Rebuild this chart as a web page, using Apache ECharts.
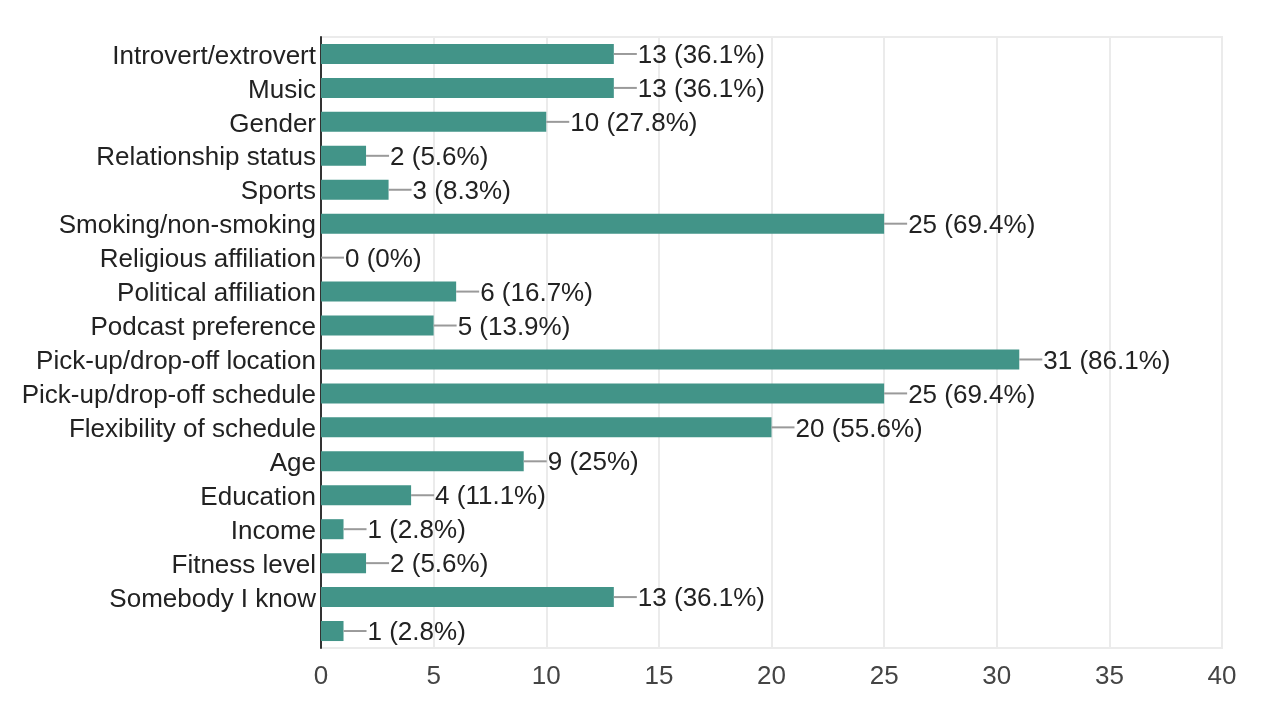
<!DOCTYPE html>
<html>
<head>
<meta charset="utf-8">
<script src="https://cdn.jsdelivr.net/npm/echarts@6/dist/echarts.min.js"></script>
<style>
html,body{margin:0;padding:0;background:#fff;}
#chart{width:1276px;height:709px;}
</style>
</head>
<body>
<div id="chart"></div>
<script>
const categories = [
  "Introvert/extrovert","Music","Gender","Relationship status","Sports",
  "Smoking/non-smoking","Religious affiliation","Political affiliation",
  "Podcast preference","Pick-up/drop-off location","Pick-up/drop-off schedule",
  "Flexibility of schedule","Age","Education","Income","Fitness level",
  "Somebody I know",""
];
const counts = [13,13,10,2,3,25,0,6,5,31,25,20,9,4,1,2,13,1];
const percents = ["36.1%","36.1%","27.8%","5.6%","8.3%","69.4%","0%","16.7%","13.9%","86.1%","69.4%","55.6%","25%","11.1%","2.8%","5.6%","36.1%","2.8%"];
const xTicks = {min:0, max:40, interval:5};

const FONT = '"Liberation Sans", Arial, Helvetica, sans-serif';
const chart = echarts.init(document.getElementById('chart'), null, {renderer:'canvas'});
chart.setOption({
  animation:false,
  backgroundColor:'#fff',
  grid:{left:321, right:54, top:37, bottom:61, show:true, borderColor:'#ebebeb', borderWidth:2, containLabel:false},
  xAxis:{
    type:'value', min:xTicks.min, max:xTicks.max, interval:xTicks.interval,
    axisLine:{show:false}, axisTick:{show:false},
    splitLine:{show:true, lineStyle:{color:'#ebebeb', width:2}},
    axisLabel:{color:'#444', fontSize:26, fontFamily:FONT, margin:16}
  },
  yAxis:{
    type:'category', inverse:true, data:categories,
    axisTick:{show:false},
    axisLine:{show:true, lineStyle:{color:'#333', width:2}},
    axisLabel:{
      margin:5,
      formatter:function(v){ return v ? '{c|' + v + '}' : ''; },
      rich:{c:{color:'#222', fontSize:26, fontFamily:FONT, padding:[5,0,0,0]}}
    }
  },
  series:[{
    type:'bar',
    data:counts,
    barCategoryGap:'41%',
    itemStyle:{color:'#429488'},
    label:{
      show:true, position:'right', distance:0,
      formatter:function(p){ return '{l|}{t|' + counts[p.dataIndex] + ' (' + percents[p.dataIndex] + ')}'; },
      rich:{
        l:{width:23, height:2, backgroundColor:'#9a9a9a'},
        t:{color:'#222', fontSize:26, fontFamily:FONT, padding:[4,0,0,1]}
      }
    }
  }]
});
</script>
</body>
</html>
